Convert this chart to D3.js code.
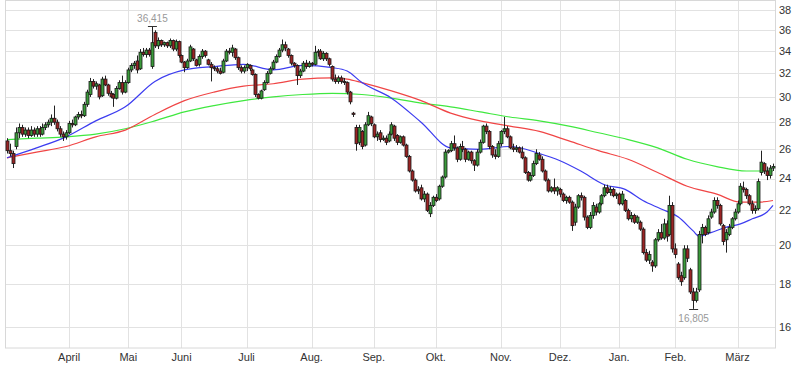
<!DOCTYPE html>
<html><head><meta charset="utf-8">
<script src="https://cdn.jsdelivr.net/npm/d3@7"></script>
<style>body{margin:0;background:#fff}svg{display:block}text{font-family:"Liberation Sans",Arial,sans-serif}</style>
</head><body><svg id="c" width="799" height="365"></svg>
<script>
const yTicks = [16,18,20,22,24,26,28,30,32,34,36,38];
const monthLabels = ["April","Mai","Juni","Juli","Aug.","Sep.","Okt.","Nov.","Dez.","Jan.","Feb.","März"];
const monthIndex = [21,41,59,81,103,124,145,167,187,207,226,247];
// daily candles: [open, high, low, close]
const ohlc = [
[26.6,26.8,25.7,25.9],[25.9,26.4,25.5,25.7],[25.7,25.9,24.7,25.0],[26.2,27.6,26.0,27.2],[27.2,27.9,26.8,27.6],
[27.6,27.8,26.9,27.1],[27.1,27.6,26.9,27.4],[27.4,27.6,26.8,27.0],[27.0,27.7,26.9,27.4],[27.4,27.6,26.9,27.1],
[27.1,27.7,26.9,27.5],[27.5,27.7,26.9,27.1],[27.1,27.9,27.0,27.6],[27.6,28.0,27.4,27.8],[27.8,28.2,27.6,28.0],
[28.0,28.6,27.7,28.3],[28.3,29.3,27.8,28.0],[28.0,28.2,27.3,27.5],[27.5,27.7,26.9,27.1],[27.1,27.3,26.6,26.9],
[26.9,27.4,26.7,27.2],[27.2,28.1,27.1,27.9],[27.9,28.2,27.6,27.8],[27.8,28.5,27.7,28.4],[28.4,28.8,28.2,28.6],
[28.6,28.9,28.3,28.5],[28.5,29.6,28.4,29.4],[29.4,30.6,29.2,30.4],[30.2,31.6,30.0,31.3],[31.3,31.5,30.7,30.9],
[30.9,31.3,30.6,31.1],[31.0,31.1,29.8,30.0],[30.1,31.7,30.0,31.5],[31.5,31.8,30.9,31.0],[31.0,31.1,30.1,30.3],
[30.3,30.5,29.9,30.0],[30.2,30.3,29.2,29.9],[29.9,30.9,29.8,30.7],[30.7,31.4,30.6,31.2],[31.2,31.8,30.2,30.4],
[30.4,31.4,30.3,31.2],[31.2,32.5,31.1,32.3],[32.3,32.9,32.1,32.7],[32.7,33.1,32.4,32.9],[33.1,33.6,32.0,32.3],
[32.4,34.2,32.3,33.9],[33.9,34.3,33.5,33.7],[33.7,34.3,33.4,34.1],[34.1,34.3,33.5,33.7],[32.6,36.415,32.4,34.8],
[35.8,36.0,34.3,34.5],[34.5,35.3,34.2,35.0],[35.0,35.1,34.4,34.6],[34.6,34.9,34.4,34.8],[34.8,34.9,34.3,34.5],
[34.5,35.2,34.3,35.0],[35.0,35.1,34.0,34.2],[34.2,35.1,34.0,34.9],[34.9,35.0,33.4,33.6],[33.6,33.7,32.9,33.0],
[33.0,33.1,32.1,32.5],[32.5,33.3,32.4,33.1],[33.1,34.6,33.0,34.4],[34.2,34.3,33.1,33.3],[33.2,33.3,32.6,32.7],
[32.8,33.7,32.6,33.5],[33.5,34.2,33.3,34.0],[34.0,34.1,33.4,33.6],[33.2,33.3,32.7,32.8],[32.8,33.0,31.3,32.5],
[32.5,32.7,32.2,32.4],[32.4,32.6,32.0,32.2],[32.2,32.5,31.9,32.0],[32.1,33.3,32.0,33.1],[33.1,34.2,33.0,34.0],
[34.0,34.3,33.7,33.9],[33.9,34.6,33.5,34.3],[34.2,34.3,33.2,33.4],[33.4,33.5,32.3,32.5],[32.5,32.7,32.0,32.2],
[32.2,32.7,32.0,32.5],[32.5,32.9,32.2,32.8],[32.7,32.8,32.2,32.4],[32.3,32.4,31.8,31.9],[31.9,32.0,30.0,30.2],
[30.2,30.3,29.8,29.9],[29.9,30.6,29.8,30.5],[30.6,31.4,30.5,31.2],[31.2,32.2,31.1,32.0],[32.0,32.6,31.9,32.4],
[32.4,33.2,32.3,33.0],[33.0,33.7,32.9,33.5],[33.5,34.3,33.4,34.1],[34.1,35.1,33.9,34.6],[34.6,34.9,34.0,34.3],
[34.2,34.3,33.4,33.6],[33.6,33.7,32.7,32.9],[32.9,33.0,32.5,32.7],[32.7,32.8,31.0,31.8],[31.8,32.4,31.6,32.2],
[32.2,33.1,32.1,32.9],[32.9,33.2,32.4,32.6],[32.6,33.1,32.5,32.9],[32.9,33.0,32.6,32.8],[32.8,34.5,32.7,33.9],
[33.9,34.2,33.5,34.0],[34.0,34.2,33.2,33.3],[33.3,34.0,33.1,33.8],[33.8,33.9,33.1,33.3],[33.3,33.4,32.6,32.8],
[32.6,32.7,31.3,31.5],[31.5,31.9,31.1,31.3],[31.3,31.8,31.1,31.6],[31.6,31.8,31.1,31.3],[31.3,31.6,31.0,31.2],
[31.2,31.3,30.2,30.4],[30.4,30.5,29.4,29.6],[28.7,28.8,28.4,28.6],[27.6,27.8,25.9,26.4],[26.5,27.8,26.3,27.6],
[27.3,27.4,26.0,26.2],[26.3,28.0,26.2,27.8],[27.8,28.8,27.7,28.5],[28.4,28.5,27.7,27.9],[27.8,27.9,26.8,26.9],
[26.9,27.3,26.6,27.1],[27.2,27.4,26.5,26.7],[26.7,27.0,26.6,26.8],[26.8,27.0,26.3,26.5],[26.6,27.3,26.5,27.1],
[27.1,28.0,27.0,27.8],[27.7,27.8,26.6,26.8],[27.0,27.1,26.3,26.5],[26.5,27.0,26.4,26.9],[26.9,27.0,26.2,26.3],
[26.3,26.4,25.4,25.5],[25.5,25.6,24.4,24.5],[24.5,24.6,23.8,23.9],[23.9,24.0,23.1,23.2],[23.3,23.5,23.0,23.2],
[23.4,23.6,22.6,22.7],[22.7,23.2,22.5,23.0],[23.0,23.1,21.9,22.0],[21.8,22.5,21.6,22.3],[22.3,22.9,22.2,22.8],
[22.8,23.0,22.5,22.6],[22.7,23.6,22.6,23.5],[23.5,24.2,23.4,24.1],[24.1,26.0,24.0,25.8],[25.8,26.0,25.7,25.9],
[25.9,26.6,25.8,26.4],[26.4,27.0,25.9,26.1],[26.1,26.2,25.1,25.3],[25.3,26.4,25.2,26.2],[26.2,26.6,25.8,26.0],
[26.0,26.1,25.1,25.3],[25.3,25.9,25.2,25.8],[25.8,25.9,25.0,25.2],[25.2,25.3,24.5,24.9],[24.9,26.0,24.8,25.8],
[25.8,26.7,25.7,26.5],[26.5,27.8,26.4,27.7],[27.7,27.9,27.1,27.3],[27.3,27.4,26.0,26.2],[26.2,26.3,25.4,25.6],
[25.6,26.0,25.3,25.5],[25.5,26.6,25.4,26.4],[26.4,27.4,26.2,27.3],[27.3,28.4,27.1,27.5],[27.5,27.7,26.8,26.9],
[26.9,27.0,26.0,26.1],[26.1,26.4,25.8,26.0],[26.0,26.3,25.8,26.1],[26.1,26.2,25.7,25.8],[25.8,26.2,25.3,25.4],
[25.4,25.5,24.3,24.4],[24.4,24.5,23.8,23.9],[23.9,24.4,23.8,24.2],[24.2,25.2,24.1,25.0],[25.0,26.0,24.9,25.7],
[25.6,25.8,25.2,25.3],[25.3,25.5,24.4,24.5],[24.5,24.6,23.8,23.9],[23.9,24.0,23.1,23.2],[23.2,23.5,23.1,23.4],
[23.4,24.0,23.0,23.2],[23.2,23.5,22.9,23.4],[23.3,23.4,22.8,23.0],[23.0,23.1,22.5,22.6],[22.6,22.9,22.4,22.8],
[22.8,22.9,22.4,22.5],[22.5,22.6,20.8,21.1],[21.3,22.4,21.1,22.2],[22.2,23.0,22.1,22.9],[22.9,23.1,22.6,22.8],
[22.8,22.9,21.4,21.6],[21.6,21.7,20.9,21.0],[21.0,21.9,20.9,21.7],[21.7,22.5,21.5,22.3],[22.2,22.4,21.7,21.9],
[21.9,22.5,21.8,22.4],[22.4,23.0,22.3,22.9],[22.9,23.6,22.8,23.4],[23.4,23.6,23.0,23.1],[23.1,23.5,22.9,23.3],
[23.3,23.4,22.8,22.9],[22.9,23.1,22.7,23.0],[23.0,23.1,22.3,22.4],[22.4,23.2,22.3,23.0],[22.6,22.7,21.9,22.0],
[22.0,22.1,21.4,21.5],[21.5,21.9,21.3,21.7],[21.7,21.8,21.2,21.3],[21.3,21.7,21.2,21.6],[21.3,21.4,20.8,20.9],
[20.9,21.0,19.5,19.6],[19.6,19.8,19.1,19.2],[19.2,19.7,19.0,19.5],[19.1,19.2,18.6,18.9],[18.9,20.4,18.8,20.3],
[20.3,20.9,20.2,20.7],[20.7,21.2,20.3,20.4],[20.4,21.5,20.3,21.2],[21.2,21.4,20.2,20.5],[20.6,22.9,20.5,22.3],
[22.3,22.5,19.6,19.8],[19.8,20.1,19.3,19.5],[19.0,19.1,18.2,18.3],[18.4,18.6,17.9,18.1],[18.3,20.0,18.2,19.8],
[19.8,20.0,19.1,19.3],[18.7,18.8,17.5,17.6],[17.6,17.8,16.805,17.2],[17.2,17.8,17.1,17.6],[17.7,20.8,17.6,20.6],
[20.6,21.2,20.1,21.0],[21.0,21.1,20.5,20.6],[20.7,21.7,20.6,21.5],[21.6,22.1,21.5,21.9],[21.9,22.8,21.8,22.6],
[22.6,22.8,22.1,22.3],[22.3,22.4,21.1,21.2],[21.1,21.2,20.0,20.2],[20.3,20.9,19.6,20.7],[20.6,21.2,20.5,21.0],
[21.0,21.6,20.9,21.5],[21.5,22.1,21.4,21.9],[21.9,22.6,21.8,22.4],[22.4,23.7,22.3,23.5],[23.4,23.8,23.1,23.3],
[23.3,23.4,22.7,22.9],[22.9,23.0,22.3,22.4],[22.4,22.6,21.8,22.0],[22.0,22.3,21.8,22.1],[22.1,24.0,22.0,23.8],
[24.4,25.9,24.2,25.1],[25.0,25.1,24.3,24.5],[24.5,24.8,23.9,24.2],[24.2,24.9,24.0,24.7],[24.7,25.0,24.5,24.8]
];
// moving averages sampled at candle indices
const blueIdx = [0,10,20,30,40,50,60,70,80,90,100,110,115,120,130,140,150,160,170,180,187,194,202,209,215,221,227,232,234,238,243,248,252,257,259];
const blueVal = [25.4,26.1,26.9,28.1,29.2,31.3,32.3,32.6,32.8,32.3,32.7,32.5,32.2,31.2,29.9,28.0,26.1,26.0,26.2,25.7,25.2,24.5,23.6,23.3,22.6,22.1,21.6,20.8,20.5,20.7,21.0,21.2,21.5,21.9,22.3];
const redIdx = [0,10,20,30,40,50,60,70,80,90,100,110,115,120,130,140,150,160,170,180,190,200,210,220,230,240,248,254,259];
const redVal = [25.4,25.8,26.2,26.9,27.4,28.6,29.7,30.4,30.9,31.1,31.5,31.6,31.5,31.2,30.5,29.7,28.7,28.1,27.7,27.3,26.6,25.9,25.3,24.4,23.5,23.0,22.5,22.5,22.6];
const greenIdx = [0,10,20,30,40,50,60,70,80,90,100,110,120,130,140,150,160,170,180,190,200,210,220,230,240,250,259];
const greenVal = [26.7,26.8,26.9,27.1,27.5,28.1,28.8,29.3,29.7,30.0,30.2,30.3,30.2,29.9,29.5,29.2,28.8,28.4,28.1,27.7,27.2,26.7,26.1,25.3,24.8,24.5,24.5];

const svg = d3.select("#c");
const L = 5, R = 775, T = 1, B = 348;
const x = d3.scaleLinear().domain([0, ohlc.length - 1]).range([7, 773]);
const y = d3.scaleLog().domain([15.1, 39.0]).range([B, T]);
const px = v => Math.round(v) + 0.5;
const comma = d3.formatLocale({decimal: ",", thousands: ".", grouping: [3], currency: ["", "€"]}).format(".3f");

// grid
const g = svg.append("g");
g.selectAll("line.h").data(yTicks).join("line")
  .attr("x1", L).attr("x2", R).attr("y1", d => px(y(d))).attr("y2", d => px(y(d)))
  .attr("stroke", "#e2e2e2");
g.selectAll("line.v").data(monthIndex).join("line")
  .attr("y1", T).attr("y2", B).attr("x1", d => px(x(d))).attr("x2", d => px(x(d)))
  .attr("stroke", "#e2e2e2");
svg.append("rect").attr("x", L + 0.5).attr("y", T - 0.5).attr("width", R - L).attr("height", B - T + 0.5)
  .attr("fill", "none").attr("stroke", "#d8d8d8");

// axes labels
svg.append("g").selectAll("text").data(yTicks).join("text")
  .attr("x", 779).attr("y", d => y(d)).attr("dy", "0.35em")
  .attr("font-size", 11).attr("fill", "#333").text(d => d);
svg.append("g").selectAll("text").data(monthIndex).join("text")
  .attr("x", d => x(d)).attr("y", 361).attr("text-anchor", "middle")
  .attr("font-size", 11).attr("fill", "#333").text((d, i) => monthLabels[i]);

// moving averages
const line = d3.line().x(d => x(d[0])).y(d => y(d[1])).curve(d3.curveMonotoneX);
[[greenIdx, greenVal, "#3fe83f"], [redIdx, redVal, "#f04545"], [blueIdx, blueVal, "#3c3cf0"]].forEach(([ix, vs, col]) => {
  svg.append("path").datum(ix.map((k, j) => [k, vs[j]])).attr("d", line)
    .attr("fill", "none").attr("stroke", col).attr("stroke-width", 1.2);
});

// candles
const cg = svg.append("g");
ohlc.forEach((d, i) => {
  const [o, h, l, c] = d;
  const cx = Math.round(x(i));
  cg.append("line").attr("x1", cx + 0.5).attr("x2", cx + 0.5).attr("y1", y(h)).attr("y2", y(l))
    .attr("stroke", "#222").attr("stroke-width", 1);
  const top = y(Math.max(o, c)), bot = y(Math.min(o, c));
  cg.append("rect").attr("x", cx - 1).attr("width", 3).attr("y", top).attr("height", Math.max(1, bot - top))
    .attr("fill", c >= o ? "#3a9a3a" : "#9a2424").attr("stroke", "#1a1a1a").attr("stroke-width", 0.8);
});

// high / low markers
const hiI = d3.maxIndex(ohlc, d => d[1]), loI = d3.minIndex(ohlc, d => d[2]);
const hi = ohlc[hiI][1], lo = ohlc[loI][2];
svg.append("line").attr("x1", x(hiI) - 4).attr("x2", x(hiI) + 5).attr("y1", px(y(hi))).attr("y2", px(y(hi))).attr("stroke", "#333");
svg.append("text").attr("x", x(hiI) + 0.5).attr("y", y(hi) - 4).attr("text-anchor", "middle")
  .attr("font-size", 10).attr("fill", "#999").text(comma(hi));
svg.append("line").attr("x1", x(loI) - 4).attr("x2", x(loI) + 5).attr("y1", px(y(lo))).attr("y2", px(y(lo))).attr("stroke", "#333");
svg.append("text").attr("x", x(loI) + 0.5).attr("y", y(lo) + 13).attr("text-anchor", "middle")
  .attr("font-size", 10).attr("fill", "#999").text(comma(lo));
</script></body></html>
